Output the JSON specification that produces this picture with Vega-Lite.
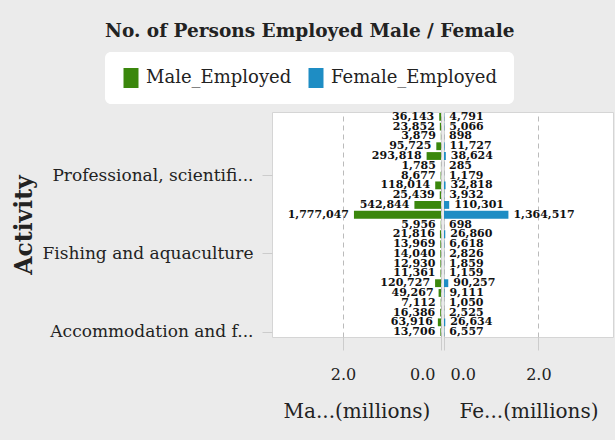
{
  "$schema": "https://vega.github.io/schema/vega-lite/v6.json",
  "background": "#EBEBEB",
  "padding": {"left": 11, "top": 21, "right": 4, "bottom": 20},
  "title": {"text": "No. of Persons Employed Male / Female", "font": "DejaVu Serif", "fontSize": 18.5, "fontWeight": "bold", "color": "#222222", "anchor": "start", "frame": "group", "dx": -167, "offset": 12},
  "data": {"values": [
    {"Activity": "Wholesale and retail trade", "Male_Employed": 36143, "Female_Employed": 4791},
    {"Activity": "Water supply and waste management", "Male_Employed": 23852, "Female_Employed": 5066},
    {"Activity": "Transportation and storage", "Male_Employed": 3879, "Female_Employed": 898},
    {"Activity": "Real estate activities", "Male_Employed": 95725, "Female_Employed": 11727},
    {"Activity": "Public administration and defence", "Male_Employed": 293818, "Female_Employed": 38624},
    {"Activity": "Publishing activities", "Male_Employed": 1785, "Female_Employed": 285},
    {"Activity": "Professional, scientific and technical activities", "Male_Employed": 8677, "Female_Employed": 1179},
    {"Activity": "Other service activities", "Male_Employed": 118014, "Female_Employed": 32818},
    {"Activity": "Mining and quarrying", "Male_Employed": 25439, "Female_Employed": 3932},
    {"Activity": "Manufacturing", "Male_Employed": 542844, "Female_Employed": 110301},
    {"Activity": "Growing of crops", "Male_Employed": 1777047, "Female_Employed": 1364517},
    {"Activity": "Gas supply", "Male_Employed": 5956, "Female_Employed": 698},
    {"Activity": "Forestry and logging", "Male_Employed": 21816, "Female_Employed": 26860},
    {"Activity": "Food processing", "Male_Employed": 13969, "Female_Employed": 6618},
    {"Activity": "Fishing and aquaculture", "Male_Employed": 14040, "Female_Employed": 2826},
    {"Activity": "Financial and insurance activities", "Male_Employed": 12930, "Female_Employed": 1859},
    {"Activity": "Electricity and energy", "Male_Employed": 11361, "Female_Employed": 1159},
    {"Activity": "Education", "Male_Employed": 120727, "Female_Employed": 90257},
    {"Activity": "Construction", "Male_Employed": 49267, "Female_Employed": 9111},
    {"Activity": "Arts, entertainment and recreation", "Male_Employed": 7112, "Female_Employed": 1050},
    {"Activity": "Agriculture support activities", "Male_Employed": 16386, "Female_Employed": 2525},
    {"Activity": "Administrative and support services", "Male_Employed": 63916, "Female_Employed": 26634},
    {"Activity": "Accommodation and food service activities", "Male_Employed": 13706, "Female_Employed": 6557}
  ]},
  "spacing": 1,
  "resolve": {"scale": {"x": "independent", "y": "shared", "color": "shared"}, "legend": {"color": "shared"}},
  "hconcat": [
    {
      "width": 169,
      "height": 225,
      "encoding": {
        "y": {
          "field": "Activity", "type": "nominal", "sort": null,
          "scale": {"paddingInner": 0.2, "paddingOuter": 0.1},
          "axis": {
            "title": "Activity",
            "values": ["Professional, scientific and technical activities", "Fishing and aquaculture", "Accommodation and food service activities"],
            "labelExpr": "datum.label == 'Professional, scientific and technical activities' ? 'Professional, scientifi...' : datum.label == 'Accommodation and food service activities' ? 'Accommodation and f...' : datum.label",
            "labelFont": "DejaVu Serif", "labelFontSize": 17, "labelColor": "#222222", "labelLimit": 300,
            "labelPadding": 9, "tickSize": 10, "tickColor": "#cccccc", "domain": false, "grid": false,
            "titleFont": "DejaVu Serif", "titleFontSize": 23.5, "titleFontWeight": "bold", "titleColor": "#222222",
            "titleX": -248, "titleAlign": "center", "titleBaseline": "middle"
          }
        },
        "x": {
          "field": "Male_Employed", "type": "quantitative",
          "scale": {"domain": [0, 3450000], "reverse": true, "nice": false, "zero": true},
          "axis": {
            "title": "Ma...(millions)", "values": [0, 2000000],
            "labelExpr": "format(datum.value / 1000000, '.1f')"
          }
        }
      },
      "layer": [
        {
          "mark": {"type": "bar"},
          "encoding": {
            "color": {"datum": "Male_Employed", "type": "nominal", "scale": {"domain": ["Male_Employed", "Female_Employed"], "range": ["#3A870C", "#1E8DC4"]}, "title": null}
          }
        },
        {
          "mark": {"type": "text", "align": "right", "baseline": "middle", "dx": -5, "clip": true, "font": "DejaVu Serif", "fontSize": 11, "fontWeight": "bold", "color": "#111111"},
          "encoding": {"text": {"field": "Male_Employed", "type": "quantitative", "format": ","}}
        }
      ]
    },
    {
      "width": 169,
      "height": 225,
      "encoding": {
        "y": {"field": "Activity", "type": "nominal", "sort": null, "axis": null},
        "x": {
          "field": "Female_Employed", "type": "quantitative",
          "scale": {"domain": [0, 3580000], "nice": false, "zero": true},
          "axis": {
            "title": "Fe...(millions)", "values": [0, 2000000],
            "labelExpr": "format(datum.value / 1000000, '.1f')"
          }
        }
      },
      "layer": [
        {
          "mark": {"type": "bar"},
          "encoding": {
            "color": {"datum": "Female_Employed", "type": "nominal", "title": null}
          }
        },
        {
          "mark": {"type": "text", "align": "left", "baseline": "middle", "dx": 5, "clip": true, "font": "DejaVu Serif", "fontSize": 11, "fontWeight": "bold", "color": "#111111"},
          "encoding": {"text": {"field": "Female_Employed", "type": "quantitative", "format": ","}}
        }
      ]
    }
  ],
  "config": {
    "view": {"fill": "white", "stroke": "#d5d5d5"},
    "axisX": {
      "labelFont": "DejaVu Serif", "labelFontSize": 16, "labelColor": "#222222", "labelPadding": 16,
      "tickSize": 13, "tickColor": "#cccccc", "domain": false,
      "grid": true, "gridDash": [5, 4], "gridColor": "#bbbbbb",
      "labelFlush": true, "labelFlushOffset": -6,
      "titleFont": "DejaVu Serif", "titleFontSize": 20, "titleFontWeight": "normal", "titleColor": "#222222", "titlePadding": 19
    },
    "legend": {
      "orient": "none", "legendX": -167, "legendY": -60, "direction": "horizontal", "fillColor": "white", "cornerRadius": 6, "padding": 16,
      "labelFont": "DejaVu Serif", "labelFontSize": 18, "labelColor": "#222222",
      "symbolType": "M-0.75,-1H0.75V1H-0.75Z", "symbolSize": 400, "symbolStrokeWidth": 0, "symbolOpacity": 1,
      "columnPadding": 14, "labelOffset": 5, "labelLimit": 300
    }
  }
}
